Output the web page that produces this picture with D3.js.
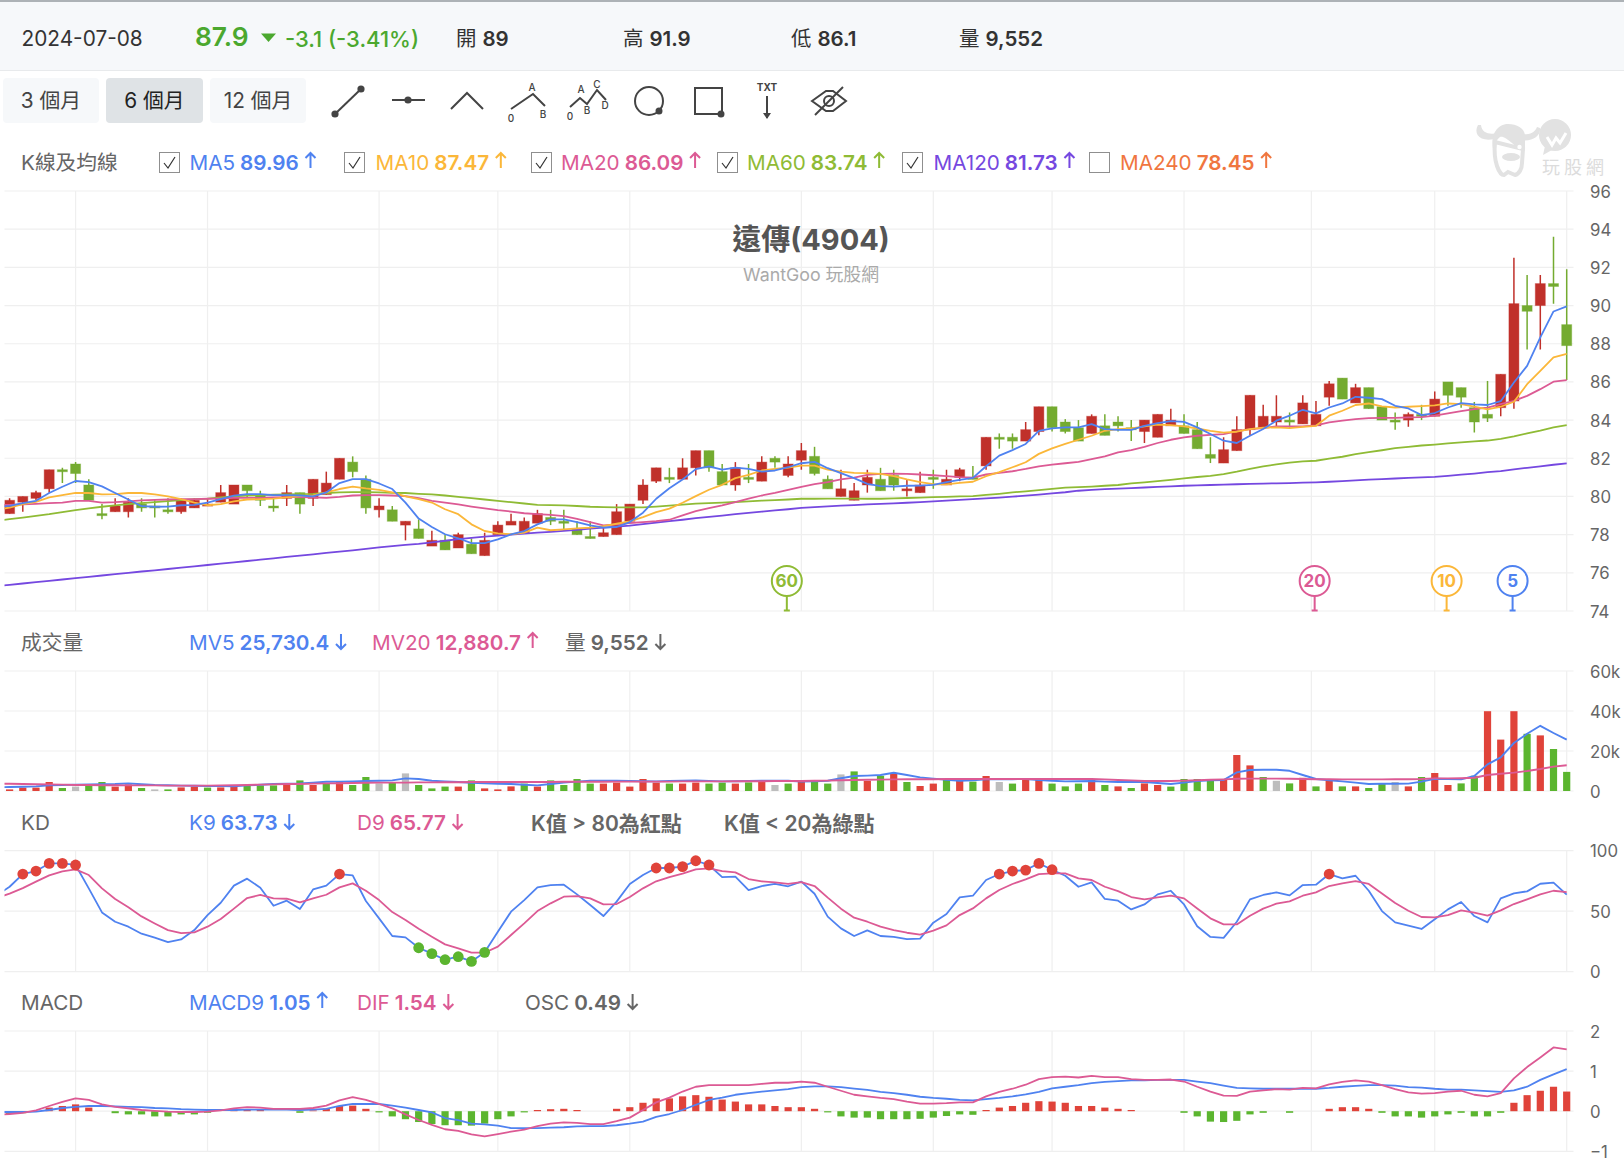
<!DOCTYPE html>
<html lang="zh-Hant">
<head>
<meta charset="utf-8">
<title>遠傳(4904)</title>
<script src="https://cdn.jsdelivr.net/npm/d3@7/dist/d3.min.js"></script>
<style>
html,body{margin:0;padding:0;background:#fff;}
svg{display:block;font-family:Inter,"Noto Sans CJK TC","Noto Sans",sans-serif;}
</style>
</head>
<body>
<svg id="chart" width="1624" height="1164"></svg>
<script>
// ---- daily candles, oldest first ----
const opens = [
79.1,79.7,79.9,80.4,81.4,81.7,80.6,79.1,79.2,79.2,
79.6,79.5,79.3,79.2,79.4,79.5,79.7,79.6,80.6,80.1,
79.5,79.9,80.2,79.9,80.1,80.9,81.8,80.9,79.3,79.3,
78.5,78.3,77.4,77.7,77.3,77.5,76.9,78.0,78.5,78.1,
78.6,78.9,78.7,78.3,77.9,77.9,78.0,78.7,79.8,80.8,
81.0,80.9,81.5,82.4,81.3,80.6,81.0,80.8,82.0,81.1,
81.9,82.1,80.9,80.0,79.8,80.6,80.9,81.1,80.3,80.2,
81.0,80.6,81.0,81.0,81.6,83.1,83.1,82.9,83.4,84.7,
83.9,83.6,83.3,83.7,83.9,83.6,83.4,83.1,83.7,83.7,
83.5,82.2,81.75,82.4,83.5,83.6,83.9,84.0,83.8,83.7,
85.2,86.2,84.9,85.7,84.7,84.0,84.0,84.3,84.2,86.0,
85.7,84.65,84.3,84.65,85.0,90.0,90.0,91.15,89.0];
const highs = [
79.9,80.0,80.3,81.4,81.5,81.8,80.9,79.6,79.9,79.9,
79.9,79.8,79.9,79.9,79.9,79.9,80.6,80.6,80.6,80.3,
79.9,80.6,80.2,80.9,81.3,82.0,82.1,81.1,79.9,79.5,
78.7,78.8,78.2,78.0,78.1,77.8,78.1,78.7,79.1,78.9,
79.3,79.3,79.3,78.7,78.7,78.4,79.6,79.6,80.9,81.5,
81.5,82.0,82.4,82.4,81.7,81.8,81.7,82.1,82.1,82.1,
82.8,82.6,81.1,81.4,80.7,81.4,81.5,81.4,80.9,81.3,
81.4,81.4,81.5,81.6,83.1,83.3,83.3,83.9,84.7,84.7,
84.05,84.0,84.3,84.3,84.2,84.0,84.0,84.3,84.6,84.3,
83.9,83.1,83.1,84.2,85.3,84.8,85.3,84.4,85.3,85.0,
86.05,86.2,85.9,85.7,84.7,84.4,84.4,84.8,85.5,86.0,
85.7,84.95,86.05,86.4,92.5,91.6,91.6,93.6,91.9];
const lows = [
79.1,79.2,79.8,80.2,80.7,80.7,79.8,78.8,79.2,78.9,
79.2,78.9,79.1,79.1,79.4,79.5,79.7,79.6,79.9,79.5,
79.2,79.5,79.1,79.5,80.1,80.9,81.0,79.1,78.9,78.7,
77.7,77.8,77.4,77.2,77.3,77.0,76.9,78.0,78.5,78.1,
78.6,78.5,78.3,78.0,77.8,77.9,78.0,78.7,79.6,80.7,
80.7,80.9,81.1,81.3,80.6,80.3,80.7,80.8,81.5,81.0,
81.4,81.1,80.4,80.0,79.8,80.2,80.3,80.3,80.0,80.2,
80.4,80.6,80.8,80.9,81.4,82.5,82.5,82.9,83.2,83.4,
83.3,82.9,83.3,83.2,83.4,82.9,82.8,83.1,83.7,83.3,
82.5,81.75,81.75,82.4,83.2,83.6,83.6,83.6,83.8,83.7,
84.75,85.1,84.9,84.6,84.0,83.5,83.65,84.0,84.2,84.75,
84.65,83.35,83.9,84.2,84.6,87.7,87.7,90.1,86.1];
const closes = [
79.8,80.0,80.2,81.4,81.3,81.2,79.8,79.0,79.5,79.7,
79.4,79.4,79.2,79.8,79.8,79.6,80.2,80.6,80.3,79.8,
79.4,80.2,79.6,80.9,80.7,82.0,81.3,79.4,79.5,78.7,
78.7,77.8,77.7,77.2,78.0,77.0,77.7,78.5,78.7,78.7,
79.1,78.7,78.6,78.0,77.8,78.1,79.2,79.6,80.6,81.5,
80.9,81.5,82.4,81.5,80.6,81.5,80.9,81.8,81.8,81.7,
82.4,81.2,80.4,80.4,80.3,81.0,80.3,80.6,80.4,80.6,
80.9,80.9,81.4,80.9,83.1,83.0,82.9,83.5,84.7,83.6,
83.4,82.9,84.2,83.2,83.7,83.5,84.0,84.3,84.0,83.3,
82.5,82.0,82.45,83.5,85.3,84.2,84.2,83.9,84.9,84.3,
85.9,85.1,85.7,84.6,84.0,83.9,84.3,84.2,85.1,85.3,
85.2,83.9,84.1,86.4,90.1,89.7,91.15,91.0,87.9];

// ---- moving averages; each list opens with the session just before the window ----
const ma5 = [79.45,
79.51,79.65,79.77,80.18,80.51,80.81,80.75,80.53,80.18,79.84,
79.49,79.46,79.47,79.54,79.56,79.68,79.86,80.04,80.12,80.12,
80.07,80.07,80.05,80.0,80.21,80.7,80.91,80.91,80.68,80.39,
79.68,78.84,78.4,78.02,77.81,77.56,77.56,77.75,78.02,78.19,78.54,
78.8,78.8,78.66,78.49,78.37,78.4,78.66,79.15,79.88,80.43,
80.89,81.43,81.57,81.41,81.51,81.44,81.3,81.36,81.53,81.74,
81.81,81.48,81.22,80.96,80.66,80.54,80.52,80.56,80.57,80.61,
80.75,80.87,80.97,81.58,82.14,82.43,82.75,83.44,83.57,83.62,83.62,
83.79,83.53,83.49,83.49,83.7,83.84,83.95,83.91,83.62,83.27,
82.92,82.8,83.18,83.53,83.97,84.23,84.54,84.35,84.66,84.87,
85.22,85.17,85.1,84.75,84.61,84.26,84.37,84.66,84.89,84.82,
84.79,84.99,85.97,86.84,88.33,89.69,89.96];
const ma10 = [79.3,
79.42,79.6,79.72,79.95,80.07,80.19,80.18,80.11,80.12,80.18,
80.18,80.11,80.0,79.86,79.68,79.54,79.6,79.74,79.84,79.86,
79.89,79.95,80.02,80.05,80.21,80.39,80.51,80.42,80.35,80.21,
80.0,79.86,79.68,79.33,79.07,78.54,78.19,78.07,78.02,78.11,78.37,
78.23,78.28,78.33,78.37,78.45,78.57,78.7,78.92,79.18,79.36,
79.67,80.02,80.35,80.61,80.96,81.13,81.36,81.44,81.51,81.62,
81.62,81.41,81.3,81.23,81.22,81.18,81.06,80.89,80.75,80.64,
80.63,80.71,80.77,81.06,81.27,81.53,81.79,82.23,82.52,82.75,82.97,
83.18,83.44,83.53,83.56,83.67,83.76,83.74,83.67,83.56,83.44,
83.34,83.39,83.53,83.6,83.62,83.58,83.65,83.7,84.23,84.49,
84.79,84.87,84.72,84.66,84.7,84.73,84.77,84.87,84.84,84.7,
84.56,84.7,84.96,85.88,86.58,87.28,87.47];
const ma20 = [79.55,
79.56,79.58,79.61,79.65,79.68,79.77,79.77,79.68,79.7,79.74,
79.79,79.82,79.84,79.86,79.86,79.88,79.89,79.93,79.93,79.93,
79.95,79.96,79.96,79.95,79.93,79.98,80.05,80.07,80.07,80.05,
80.02,79.91,79.77,79.68,79.58,79.47,79.37,79.28,79.21,79.12,79.07,
79.04,78.97,78.83,78.66,78.49,78.54,78.61,78.66,78.71,78.78,
79.01,79.23,79.39,79.53,79.7,79.88,80.05,80.19,80.35,80.5,
80.64,80.75,80.89,80.99,81.13,81.18,81.2,81.18,81.15,81.11,
81.06,81.01,80.99,81.15,81.23,81.32,81.44,81.58,81.67,81.74,81.81,
81.96,82.1,82.31,82.43,82.6,82.8,82.97,83.09,83.18,83.23,
83.27,83.41,83.53,83.58,83.67,83.67,83.67,83.72,83.88,83.97,
84.05,84.1,84.12,84.12,84.14,84.16,84.23,84.35,84.47,84.58,
84.65,84.84,85.01,85.27,85.62,86.01,86.09];
const ma60 = [78.73,
78.81,78.89,78.98,79.07,79.18,79.28,79.37,79.46,79.53,79.6,
79.65,79.7,79.75,79.81,79.86,79.89,79.95,80.0,80.05,80.07,
80.09,80.11,80.12,80.14,80.18,80.21,80.23,80.23,80.21,80.19,
80.18,80.14,80.11,80.05,79.98,79.91,79.84,79.77,79.7,79.63,79.56,
79.55,79.53,79.5,79.46,79.44,79.43,79.43,79.43,79.47,79.52,
79.57,79.62,79.65,79.68,79.71,79.74,79.78,79.81,79.84,79.88,
79.88,79.89,79.89,79.89,79.88,79.88,79.9,79.92,79.94,79.96,
79.98,80.0,80.02,80.08,80.14,80.21,80.27,80.33,80.4,80.46,80.49,
80.52,80.56,80.6,80.68,80.74,80.8,80.87,80.95,81.02,81.08,
81.17,81.3,81.45,81.57,81.68,81.77,81.84,81.87,81.98,82.08,
82.22,82.32,82.42,82.53,82.6,82.67,82.72,82.78,82.83,82.88,
82.93,83.02,83.15,83.3,83.45,83.62,83.74];
const ma120 = [75.3,
75.37,75.44,75.51,75.58,75.65,75.72,75.79,75.86,75.93,76.0,
76.07,76.13,76.2,76.27,76.34,76.41,76.48,76.55,76.62,76.69,
76.76,76.83,76.9,76.97,77.04,77.11,77.18,77.25,77.33,77.4,
77.46,77.52,77.6,77.68,77.76,77.83,77.9,77.95,78.0,78.05,78.1,
78.15,78.2,78.25,78.31,78.37,78.42,78.47,
78.55,78.63,78.71,78.78,78.86,78.93,79.0,79.07,79.14,79.2,79.27,79.33,79.4,
79.44,79.48,79.52,79.55,79.58,79.61,79.64,79.67,79.7,79.74,
79.78,79.82,79.86,79.9,79.94,79.99,80.04,80.1,80.16,80.22,80.3,
80.34,80.38,80.41,80.44,80.47,80.5,80.53,80.56,
80.58,80.6,80.62,80.64,80.66,80.67,80.69,80.7,80.72,80.74,
80.77,80.8,80.84,80.88,80.91,80.94,80.97,81.0,81.03,
81.08,81.14,81.2,81.27,81.33,
81.42,81.5,81.58,81.66,81.73];

// ---- traded volume in thousands; tone: u up day, d down day, f flat day ----
const volume = [
0.8,1.7,1.7,4.5,1.5,2.2,3,4.5,2.2,3.3,
1.5,0.8,0.8,1.8,2.2,1.7,1.8,2.2,2.5,2.8,
2.8,3,5.3,3,3.8,4.5,3,7,3.8,4.5,
8.8,3,1.3,2.2,2.2,5.3,1.3,0.8,2.3,3.7,
2.2,5.3,3,6,3.7,3.7,4.2,2.2,6,4.2,
3.7,3.7,4.2,3.7,4.2,3.7,4.3,4.5,3,3.7,
4.7,4.7,3.7,8.3,9.8,5.1,7.6,8.5,4.5,2.5,
3.7,5.5,5.3,4.7,7.5,4.5,3.7,5.5,6,3.7,
2.3,3.7,6,3,2.3,1.5,3.8,3,2.2,6,
6,6,5.5,18,12.8,7,5.1,3.8,6.6,2.3,
5.1,2.3,2.3,1.5,3.8,4.5,2.3,7,9,3,
3.8,7.6,39.9,25.7,39.9,28.6,27.8,21,9.552];
const volumeTone = [
"u","u","u","u","d","f","d","d","u","u",
"d","f","d","u","u","d","u","u","d","d",
"d","u","d","u","d","u","d","d","f","d",
"f","d","d","d","u","d","u","u","u","d",
"u","d","d","d","d","u","u","u","u","u",
"d","u","u","d","d","u","d","u","f","d",
"u","d","d","f","d","u","d","u","d","u",
"u","d","u","d","u","f","d","u","u","d",
"d","d","u","d","u","d","u","u","d","d",
"d","d","u","u","u","d","f","d","u","d",
"u","d","u","d","d","f","u","d","u","u",
"d","d","u","u","u","d","u","d","d"];
const mv5 = [1.9,
2.0,2.1,2.3,2.8,3.0,3.2,3.3,3.4,3.5,3.8,
3.4,3.0,2.9,2.7,2.6,2.5,2.5,2.4,2.8,3.1,
3.5,3.7,3.8,4.2,4.6,4.7,4.8,5.0,5.1,5.3,
6.3,6.0,5.1,4.8,4.5,4.1,3.8,3.6,3.5,3.1,
2.8,3.5,4.2,4.7,5.1,5.2,5.1,5.0,4.9,4.8,
5.0,5.1,5.3,5.0,4.8,4.9,5.0,5.1,5.1,5.1,
4.7,4.9,5.1,6.4,7.5,7.7,8.0,9.1,8.0,6.8,
6.2,5.6,5.1,5.4,5.8,5.9,5.9,6.0,5.5,5.1,
4.8,4.9,5.0,4.7,4.5,4.5,4.5,4.0,3.5,4.2,
5.0,5.3,5.5,9.3,10.5,10.6,10.6,10.1,8.0,6.0,
5.4,4.8,4.2,3.5,3.6,3.6,3.7,4.7,6.1,6.0,
5.8,7.5,13.3,16.8,24,28.6,32.6,29,25.7304];
const mv20 = [3.7,
3.6,3.5,3.4,3.3,3.2,3.0,3.0,2.9,2.9,2.8,
2.8,2.8,2.7,2.7,2.7,2.7,2.8,2.9,3.0,3.2,
3.3,3.5,3.5,3.7,3.8,3.9,4.0,4.1,4.2,4.2,
4.2,4.3,4.3,4.4,4.4,4.5,4.5,4.5,4.5,4.5,
4.5,4.5,4.6,4.6,4.6,4.6,4.7,4.7,4.7,4.7,
4.7,4.8,4.8,4.8,4.8,4.9,4.9,4.9,5.0,5.0,
5.0,5.1,5.2,5.4,5.5,5.6,5.7,5.8,5.9,5.9,
5.9,6.0,6.0,6.0,6.0,6.0,6.0,6.0,6.0,6.0,
6.0,6.0,6.0,5.8,5.5,5.3,5.0,5.0,5.0,5.2,
5.4,5.6,5.8,6.1,6.2,6.2,6.2,6.1,6.0,5.9,
5.9,5.8,5.8,5.8,5.8,5.9,5.9,6.0,6.3,6.3,
6.4,6.6,8.0,8.6,9.2,10,11,12.2,12.8807];

// ---- stochastic ----
const k9 = [63,
70.2,80.7,83.2,89.5,89.5,88.2,68.9,49,41.3,37.2,
31.4,28.1,24.5,26.7,34.4,46.8,57,71.1,76.9,69.4,
54.5,58.7,51.8,68,71.1,80.7,79.6,58.4,44.1,29.5,
28.4,19.8,14.9,9.9,12.4,8.5,16,33.1,49.6,59.2,
69.7,71.6,71.9,63.9,55.1,46,57.9,72.5,79.9,85.7,
85.7,86.8,91.7,88.2,78.2,78.5,67.5,70.8,72.5,70.6,
74.5,64.4,45.5,35.8,29.5,34.2,29.5,28.7,27,27.3,
40.5,47.7,61.4,62.8,75.8,80.7,83.2,84,89.5,84.3,
79.3,70.2,73.8,60.1,58.7,51.5,55.6,63.9,66.9,55.6,
37.5,28.7,27.9,41.3,59.8,63.4,65.6,63.1,71.6,71.9,
80.7,77.1,79.3,66.9,50.1,40.8,38,35.3,43.3,51.5,
57.6,46,40.8,60.6,64.7,66.4,72.7,73.6,63.73];
const d9 = [61,
64.5,69.1,74.4,79.6,82.9,84.6,79.9,68.9,60.1,53.2,
45.7,39.9,34.4,31.9,32.5,37.2,43.5,52.1,60.9,63.4,
60.6,60.3,57.3,60.6,63.6,69.7,73,66.9,59.2,49.3,
42.7,35.5,28.9,22.6,19.3,15.7,15.7,20.7,30.3,39.9,
50.1,56.5,62,62.5,60.6,55.6,55.9,61.7,68.9,74.7,
78.2,81,84.6,85.4,83.2,82.1,76.6,74.7,73.8,72.5,
74.1,70.8,61.2,52.1,44.6,41.3,37.2,34.4,32.2,30.6,
33.9,38.3,46.8,52.3,60.6,67.5,72.5,76.3,80.7,81.3,
81.3,77.1,75.8,70.2,66.6,61.7,59.8,61.4,62.8,60.6,
52.3,44.1,39.1,39.1,46.3,52.1,56.2,58.1,62.8,65.6,
70.8,73,74.9,72.5,64.7,56.7,50.4,45.2,44.9,46.8,
50.7,48.8,46.3,50.7,55.9,59.8,63.9,66.9,65.77];

// ---- MACD ----
const dif = [-0.09,
-0.07,-0.04,0.02,0.13,0.23,0.32,0.28,0.17,0.11,0.07,
0.03,0.01,-0.01,-0.02,-0.02,-0.01,0.02,0.07,0.1,0.09,
0.06,0.06,0.06,0.08,0.14,0.27,0.35,0.28,0.18,0.07,
-0.08,-0.22,-0.34,-0.45,-0.49,-0.58,-0.63,-0.57,-0.51,-0.46,
-0.37,-0.31,-0.28,-0.29,-0.32,-0.32,-0.25,-0.16,0.03,0.22,
0.34,0.49,0.61,0.65,0.65,0.65,0.65,0.68,0.71,0.71,
0.74,0.71,0.61,0.51,0.41,0.37,0.33,0.3,0.24,0.19,
0.19,0.2,0.22,0.22,0.37,0.48,0.56,0.66,0.8,0.85,
0.86,0.84,0.88,0.85,0.85,0.8,0.78,0.78,0.79,0.74,
0.61,0.49,0.39,0.38,0.49,0.52,0.55,0.54,0.58,0.57,
0.67,0.73,0.77,0.74,0.65,0.55,0.47,0.44,0.45,0.49,
0.51,0.41,0.37,0.45,0.82,1.1,1.34,1.59,1.54];
const macd9 = [-0.02,
-0.02,-0.02,-0.01,0.03,0.08,0.11,0.13,0.13,0.12,0.11,
0.1,0.08,0.07,0.05,0.04,0.03,0.03,0.03,0.04,0.04,
0.04,0.04,0.03,0.04,0.06,0.13,0.18,0.18,0.18,0.14,
0.09,0.03,-0.03,-0.17,-0.22,-0.31,-0.33,-0.36,-0.42,-0.42,
-0.42,-0.41,-0.4,-0.38,-0.37,-0.37,-0.35,-0.31,-0.26,-0.14,
-0.07,0.03,0.16,0.28,0.34,0.41,0.45,0.49,0.52,0.55,
0.6,0.62,0.62,0.6,0.565,0.53,0.48,0.45,0.41,0.36,
0.33,0.31,0.28,0.27,0.3,0.33,0.37,0.42,0.48,0.57,
0.61,0.65,0.7,0.73,0.75,0.77,0.77,0.78,0.78,0.78,
0.74,0.7,0.64,0.58,0.57,0.56,0.56,0.56,0.56,0.56,
0.58,0.61,0.63,0.65,0.65,0.64,0.6,0.59,0.56,0.54,
0.54,0.52,0.5,0.48,0.52,0.61,0.78,0.92,1.05];
const osc = [
-0.07,-0.05,0,0.09,0.13,0.17,0.09,0,-0.05,-0.08,
-0.08,-0.13,-0.13,-0.08,-0.08,-0.04,0,0.03,0.03,0.03,
0,0,-0.04,0.02,0.07,0.13,0.14,0.06,-0.03,-0.13,
-0.2,-0.27,-0.32,-0.35,-0.35,-0.36,-0.31,-0.2,-0.13,-0.03,
0.03,0.05,0.06,0.03,0,0,0.06,0.1,0.21,0.32,
0.32,0.37,0.4,0.36,0.29,0.24,0.17,0.17,0.13,0.1,
0.1,0.06,-0.03,-0.13,-0.16,-0.16,-0.2,-0.2,-0.2,-0.19,
-0.16,-0.12,-0.08,-0.09,0.03,0.09,0.13,0.21,0.25,0.24,
0.21,0.13,0.13,0.09,0.06,0.03,0,0,0,-0.04,
-0.13,-0.26,-0.27,-0.24,-0.08,-0.04,0,-0.04,0,0,
0.06,0.1,0.1,0.06,-0.04,-0.13,-0.13,-0.16,-0.13,-0.08,
-0.04,-0.13,-0.13,-0.04,0.21,0.4,0.51,0.61,0.49];

// ---- axis ticks and session positions of the vertical rules ----
const priceTicks = [74,76,78,80,82,84,86,88,90,92,94,96];
const volumeTicks = [0,20,40,60];
const kdTicks = [0,50,100];
const macdTicks = [-1,0,1,2];
const monthRules = [5,15,28,37,47,60,70,79,89,98.65,108,118];
const crossMarkers = [
  {label:"60",at:58.9,color:"#8fbb35"},
  {label:"20",at:98.9,color:"#dc5a94"},
  {label:"10",at:108.9,color:"#fbb739"},
  {label:"5",at:113.9,color:"#4f82f0"}];

const BLUE="#4f82f0",PINK="#dc5a94",ORANGE="#fbb739",OLIVE="#8fbb35",PURPLE="#7548e0",CORAL="#f0763f";
const RED="#e0433a",GREEN="#5bb52f",GREY="#bdbdbd",CANDLE_RED="#c0302a",CANDLE_GREEN="#74ab30";
const TEXT="#666",DARK="#333";

const svg=d3.select("#chart");
const N=closes.length;
const LEFT=4.5,RIGHT=1573.5,AXIS_X=1590;
const x=d3.scaleLinear().domain([0,118]).range([9.6,1566.7]);
const yPrice=d3.scaleLinear().domain([74,96]).range([611,191]);
const yVol=d3.scaleLinear().domain([0,60]).range([791,671]);
const yKd=d3.scaleLinear().domain([0,100]).range([971.7,850.7]);
const yMacd=d3.scaleLinear().domain([-1,2]).range([1151.3,1031]);

svg.append("defs").append("clipPath").attr("id","plotClip")
  .append("rect").attr("x",LEFT).attr("y",0).attr("width",RIGHT-LEFT).attr("height",1164);

// ---- header strip ----
svg.append("rect").attr("width",1624).attr("height",70.5).attr("fill","#f6f8fa");
svg.append("rect").attr("width",1624).attr("height",2).attr("fill","#adb2b6");
svg.append("rect").attr("y",70).attr("width",1624).attr("height",1).attr("fill","#e8eaec");

function label(parent,px,py,str,opts={}){
  return parent.append("text").attr("x",px).attr("y",py).attr("dy","0.36em")
    .attr("fill",opts.fill||TEXT).attr("font-size",opts.size||20)
    .attr("font-weight",opts.weight||400).attr("text-anchor",opts.anchor||"start")
    .attr("letter-spacing",opts.spacing||null).text(str);
}
label(svg,21.5,39,"2024-07-08",{fill:DARK,size:20.8});
label(svg,195,37,"87.9",{fill:"#4ba82e",size:26.3,weight:600});
svg.append("path").attr("d","M261 33.5H276L268.5 42Z").attr("fill","#4ba82e");
label(svg,285,39,"-3.1 (-3.41%)",{fill:"#4ba82e",size:22,weight:500});
[["開","89",456],["高","91.9",623],["低","86.1",791],["量","9,552",959]].forEach(([zh,val,px])=>{
  const t=label(svg,px,39,zh,{fill:DARK,size:20.5});
  t.append("tspan").attr("dx",6).attr("font-weight",600).text(val);
});

// ---- period buttons ----
[["3 個月",3,99,false],["6 個月",106,203,true],["12 個月",210,306,false]].forEach(([txt,a,b,on])=>{
  svg.append("rect").attr("x",a).attr("y",78).attr("width",b-a).attr("height",45).attr("rx",4)
    .attr("fill",on?"#dfe3e6":"#f6f8fa");
  label(svg,(a+b)/2,101,txt,{anchor:"middle",fill:on?"#222":"#444",size:20.8});
});

// ---- drawing tool icons ----
const icons=svg.append("g").attr("fill","none").attr("stroke","#444").attr("stroke-width",2);
icons.append("path").attr("d","M335 114L361 89");
icons.selectAll("circle.h").data([[335,114],[361,89],[408,100]]).enter()
  .append("circle").attr("cx",d=>d[0]).attr("cy",d=>d[1]).attr("r",2.6).attr("fill","#444");
icons.append("path").attr("d","M392 100H425");
icons.append("path").attr("d","M451 109L467 93L483 109");
icons.append("path").attr("d","M511 109L533 94L545 106");
icons.append("path").attr("d","M570 107L580 98L587 104L597 90L606 100");
icons.append("circle").attr("cx",649).attr("cy",101).attr("r",14);
icons.append("circle").attr("cx",659).attr("cy",111).attr("r",2.5).attr("fill","#444");
icons.append("rect").attr("x",695).attr("y",88).attr("width",27).attr("height",26);
icons.append("circle").attr("cx",721).attr("cy",114).attr("r",2.5).attr("fill","#444");
icons.append("path").attr("d","M767 96V118");
svg.append("path").attr("d","M763 113H771L767 119Z").attr("fill","#444");
icons.append("path").attr("d","M812 101L826 91H833L846 101L833 111H826Z");
icons.append("circle").attr("cx",829).attr("cy",101).attr("r",5);
icons.append("path").attr("d","M815 115L843 87");
[["A",532,87],["0",511,118],["B",543,114],["A",581,89],["C",597,84],["0",570,116],["B",587,110],["D",605,105]]
  .forEach(([c,px,py])=>label(svg,px,py,c,{size:10,fill:"#444",anchor:"middle",weight:500}));
label(svg,767,87,"TXT",{size:10,fill:"#444",anchor:"middle",weight:700});

// ---- logo mark in the top right corner ----
const LOGO="#e2e2e2";
const logo=svg.append("g");
logo.append("path").attr("fill",LOGO)
  .attr("d","M1478 125C1473 134 1480 142 1494 139L1498 133C1489 135 1482 133 1481 125Z");
logo.append("path").attr("fill",LOGO)
  .attr("d","M1540 128C1541 136 1532 142 1521 140L1518 134C1528 135 1534 134 1537 127Z");
logo.append("path").attr("fill","#fff").attr("stroke",LOGO).attr("stroke-width",4)
  .attr("d","M1495 142C1494 152 1495 160 1497 166C1499 172 1502 175 1504 175L1508 172L1515 175C1519 174 1522 169 1522 163L1523 149Z");
logo.append("path").attr("fill",LOGO)
  .attr("d","M1493 149C1490 134 1498 124 1508 124C1517 124 1524 128 1525 135L1525 151C1522 150 1516 147 1512 143C1507 139 1503 136 1500 137C1497 139 1495 144 1493 149Z");
logo.append("circle").attr("cx",1519.5).attr("cy",147).attr("r",2.2).attr("fill","#fff");
logo.append("ellipse").attr("cx",1511).attr("cy",157).attr("rx",9).attr("ry",4).attr("fill",LOGO);
logo.append("circle").attr("cx",1555).attr("cy",135).attr("r",16).attr("fill",LOGO);
logo.append("path").attr("d","M1545 146L1543 155L1552 150Z").attr("fill",LOGO);
logo.append("path").attr("d","M1547 137L1552 145L1556 138L1560 143L1566 133").attr("fill","none").attr("stroke","#fff").attr("stroke-width",3);
label(logo,1542,167.5,"玩股網",{size:18,fill:"#dcdcdc",spacing:4});

// ---- legend rows ----
function arrow(parent,px,py,up,color){
  const s=up?-1:1;
  parent.append("path").attr("fill","none").attr("stroke",color).attr("stroke-width",2)
    .attr("d",`M${px} ${py-7*s}L${px} ${py+8*s}M${px-5} ${py+3*s}L${px} ${py+8*s}L${px+5} ${py+3*s}`);
}
function legendItem(px,py,name,val,color,up){
  const t=label(svg,px,py,name,{fill:color,size:20.7});
  t.append("tspan").attr("dx",5).attr("font-weight",600).text(val);
  const w=t.node().getComputedTextLength();
  arrow(svg,px+w+5+11.7,py-2,up,color);
}
function checkbox(px,py,on){
  svg.append("rect").attr("x",px-0.5).attr("y",py-10.5).attr("width",20).attr("height",20)
    .attr("fill","#fff").attr("stroke","#8f8f8f");
  if(on) svg.append("path").attr("d",`M${px+4} ${py}L${px+8} ${py+5}L${px+15} ${py-6}`)
    .attr("fill","none").attr("stroke","#333").attr("stroke-width",1.2);
}
label(svg,21,163,"K線及均線",{size:20.7});
[[160,189.5,"MA5","89.96",BLUE,true],[345,375.5,"MA10","87.47",ORANGE,true],[532,561,"MA20","86.09",PINK,true],
 [718,747,"MA60","83.74",OLIVE,true],[903,933.5,"MA120","81.73",PURPLE,true],[1090,1120,"MA240","78.45",CORAL,false]]
 .forEach(([bx,tx,n,v,c,on])=>{checkbox(bx,163,on);legendItem(tx,163,n,v,c,true);});

label(svg,21,643,"成交量",{size:20.7});
legendItem(189,643,"MV5","25,730.4",BLUE,false);
legendItem(372,643,"MV20","12,880.7",PINK,true);
legendItem(565,643,"量","9,552",TEXT,false);

label(svg,21,823,"KD",{size:20.7});
legendItem(189,823,"K9","63.73",BLUE,false);
legendItem(357,823,"D9","65.77",PINK,false);
label(svg,531,823,"K值 > 80為紅點",{size:21,weight:600});
label(svg,724,823,"K值 < 20為綠點",{size:21,weight:600});

label(svg,21,1003,"MACD",{size:20.7});
legendItem(189,1003,"MACD9","1.05",BLUE,true);
legendItem(357,1003,"DIF","1.54",PINK,false);
legendItem(525,1003,"OSC","0.49",TEXT,false);

// ---- panel frames: rules and right-hand axis ----
function panel(y,ticks,fmt){
  const g=svg.append("g");
  const [bottom,top]=y.range();
  g.append("g").selectAll("line").data(monthRules).enter().append("line")
    .attr("x1",d=>x(d)).attr("x2",d=>x(d)).attr("y1",top).attr("y2",bottom)
    .attr("stroke","#efefef").attr("stroke-width",1.2);
  g.append("g").selectAll("line").data(ticks).enter().append("line")
    .attr("x1",LEFT).attr("x2",RIGHT).attr("y1",d=>y(d)).attr("y2",d=>y(d))
    .attr("stroke","#efefef").attr("stroke-width",1.2);
  const axis=d3.axisRight(y).tickValues(ticks).tickSize(0).tickPadding(0).tickFormat(fmt||d3.format("d"));
  const a=g.append("g").attr("transform",`translate(${AXIS_X},0.7)`).call(axis);
  a.select(".domain").remove();
  a.selectAll("text").attr("font-family","Inter,sans-serif").attr("font-size",16.8).attr("fill",TEXT);
  return g;
}
const gPrice=panel(yPrice,priceTicks);
const gVol=panel(yVol,volumeTicks,d=>d===0?"0":d+"k");
const gKd=panel(yKd,kdTicks);
const gMacd=panel(yMacd,macdTicks);

function seriesLine(g,y,values,color,width){
  const line=d3.line().x((d,i)=>x(i-1)).y(d=>y(d));
  g.append("path").datum(values).attr("clip-path","url(#plotClip)")
    .attr("fill","none").attr("stroke",color).attr("stroke-width",width||1.8)
    .attr("stroke-linejoin","round").attr("d",line);
}

// ---- title ----
label(svg,811,240,"遠傳(4904)",{anchor:"middle",size:29,weight:700,fill:"#555"});
label(svg,811,275,"WantGoo 玩股網",{anchor:"middle",size:17.8,fill:"#aaa"});

// ---- candles ----
const candles=d3.range(N).map(i=>({i,o:opens[i],h:highs[i],l:lows[i],c:closes[i]}));
const candleColor=d=>d.c>=d.o?CANDLE_RED:CANDLE_GREEN;
const gC=gPrice.append("g").attr("clip-path","url(#plotClip)");
gC.selectAll("line.wick").data(candles).enter().append("line").attr("class","wick")
  .attr("x1",d=>x(d.i)).attr("x2",d=>x(d.i)).attr("y1",d=>yPrice(d.h)).attr("y2",d=>yPrice(d.l))
  .attr("stroke",candleColor).attr("stroke-width",1.5);
gC.selectAll("rect.body").data(candles).enter().append("rect").attr("class","body")
  .attr("x",d=>x(d.i)-5).attr("width",10)
  .attr("y",d=>yPrice(Math.max(d.o,d.c)))
  .attr("height",d=>Math.max(2,Math.abs(yPrice(d.o)-yPrice(d.c))))
  .attr("fill",candleColor).attr("stroke",candleColor).attr("stroke-opacity",0.4).attr("stroke-width",1);

seriesLine(gPrice,yPrice,ma120,PURPLE);
seriesLine(gPrice,yPrice,ma60,OLIVE);
seriesLine(gPrice,yPrice,ma20,PINK);
seriesLine(gPrice,yPrice,ma10,ORANGE);
seriesLine(gPrice,yPrice,ma5,BLUE);

// moving-average cross pins along the foot of the price panel
crossMarkers.forEach(m=>{
  const px=x(m.at),cy=581,foot=yPrice.range()[0];
  gPrice.append("path").attr("fill","none").attr("stroke",m.color).attr("stroke-width",2)
    .attr("d",`M${px} ${cy+15}L${px} ${foot-0.5}M${px-3} ${foot-0.5}H${px+3}`);
  gPrice.append("circle").attr("cx",px).attr("cy",cy).attr("r",15).attr("fill","#fff").attr("stroke",m.color).attr("stroke-width",2);
  label(gPrice,px,cy,m.label,{anchor:"middle",fill:m.color,size:17,weight:700});
});

// ---- volume ----
const toneColor={u:RED,d:GREEN,f:GREY};
gVol.append("g").selectAll("rect").data(volume).enter().append("rect")
  .attr("x",(d,i)=>x(i)-3.6).attr("width",7.2)
  .attr("y",d=>yVol(d)).attr("height",d=>yVol(0)-yVol(d))
  .attr("fill",(d,i)=>toneColor[volumeTone[i]]);
seriesLine(gVol,yVol,mv5,BLUE,1.9);
seriesLine(gVol,yVol,mv20,PINK,1.9);

// ---- KD with overbought and oversold dots ----
seriesLine(gKd,yKd,k9,BLUE);
seriesLine(gKd,yKd,d9,PINK);
const extremes=k9.slice(1).map((v,i)=>({i,v})).filter(d=>d.v>80||d.v<20);
gKd.append("g").selectAll("circle").data(extremes).enter().append("circle")
  .attr("cx",d=>x(d.i)).attr("cy",d=>yKd(d.v)).attr("r",5.4)
  .attr("fill",d=>d.v>80?RED:GREEN);

// ---- MACD ----
gMacd.append("g").selectAll("rect").data(osc).enter().append("rect")
  .attr("x",(d,i)=>x(i)-3.6).attr("width",7.2)
  .attr("y",d=>yMacd(Math.max(d,0))).attr("height",d=>Math.abs(yMacd(d)-yMacd(0)))
  .attr("fill",d=>d>=0?RED:GREEN);
seriesLine(gMacd,yMacd,macd9,BLUE);
seriesLine(gMacd,yMacd,dif,PINK);

// guard against a list falling out of step with the sessions
[opens,highs,lows,closes,volume,osc,volumeTone].forEach((a,i)=>{if(a.length!==119) throw new Error("daily list "+i+" has "+a.length);});
[ma5,ma10,ma20,ma60,ma120,mv5,mv20,k9,d9,dif,macd9].forEach((a,i)=>{if(a.length!==120) throw new Error("line list "+i+" has "+a.length);});
</script>
</body>
</html>
